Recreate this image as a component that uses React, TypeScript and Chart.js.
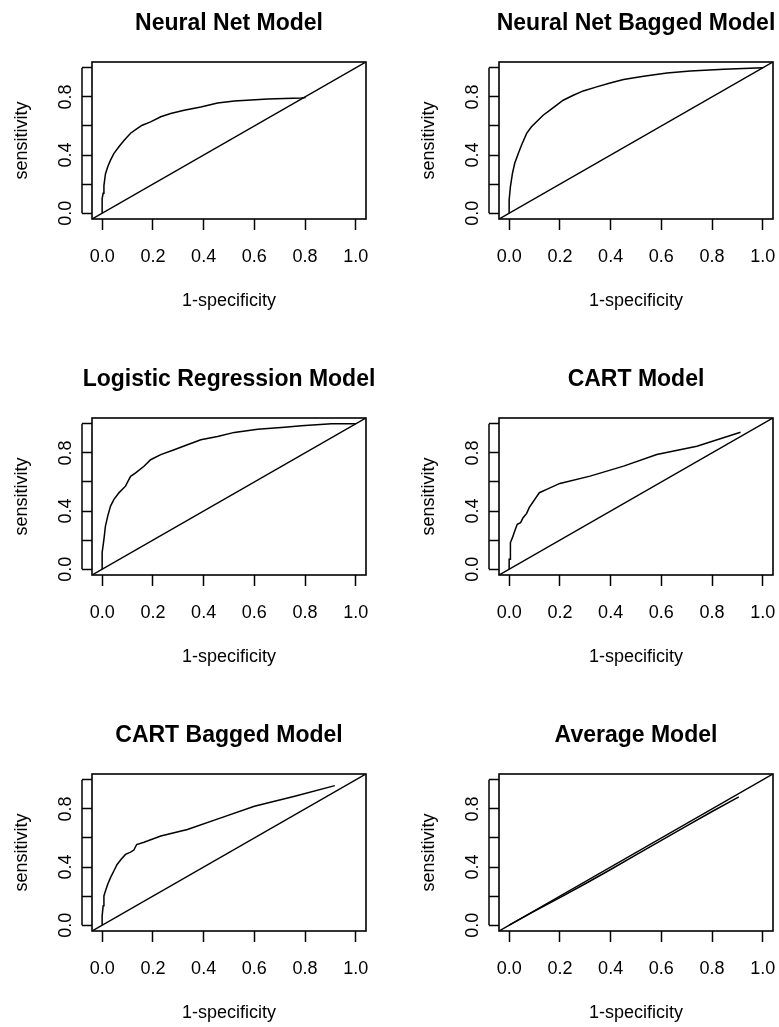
import React, { useEffect, useRef } from 'react';
import { Chart, registerables } from 'chart.js';

Chart.register(...registerables);

// ---------- axis definitions ----------
const axisMin = -0.04;
const axisMax = 1.04;
const xTickValues = [0, 0.2, 0.4, 0.6, 0.8, 1.0];
const xTickLabels = ['0.0', '0.2', '0.4', '0.6', '0.8', '1.0'];
const yTickValues = [0, 0.2, 0.4, 0.6, 0.8, 1.0];
const yTickLabels = ['0.0', '', '0.4', '', '0.8', ''];
const xAxisTitle = '1-specificity';
const yAxisTitle = 'sensitivity';

// ---------- data ----------
const panelTitles = [
  'Neural Net Model',
  'Neural Net Bagged Model',
  'Logistic Regression Model',
  'CART Model',
  'CART Bagged Model',
  'Average Model',
];

const nnFpr = [0, 0, 0.004, 0.007, 0.013, 0.022, 0.033, 0.046, 0.066, 0.086, 0.112, 0.139, 0.158, 0.191, 0.231, 0.270, 0.323, 0.389, 0.455, 0.521, 0.653, 0.785, 0.802];
const nnTpr = [0, 0.10, 0.137, 0.19, 0.27, 0.32, 0.365, 0.41, 0.457, 0.50, 0.55, 0.583, 0.605, 0.628, 0.663, 0.686, 0.708, 0.731, 0.758, 0.772, 0.786, 0.793, 0.795];

const nnBagFpr = [0, 0, 0.005, 0.013, 0.022, 0.036, 0.049, 0.069, 0.088, 0.108, 0.134, 0.161, 0.187, 0.213, 0.253, 0.292, 0.345, 0.398, 0.451, 0.530, 0.622, 0.714, 0.846, 1.0];
const nnBagTpr = [0, 0.091, 0.183, 0.274, 0.343, 0.411, 0.469, 0.549, 0.594, 0.629, 0.674, 0.709, 0.743, 0.777, 0.811, 0.841, 0.869, 0.896, 0.919, 0.942, 0.965, 0.978, 0.990, 1.0];

const logitFpr = [0, 0, 0.007, 0.013, 0.022, 0.033, 0.046, 0.066, 0.092, 0.112, 0.132, 0.165, 0.191, 0.231, 0.284, 0.336, 0.389, 0.455, 0.521, 0.613, 0.719, 0.785, 0.904, 1.0];
const logitTpr = [0, 0.114, 0.205, 0.297, 0.365, 0.434, 0.479, 0.525, 0.571, 0.639, 0.662, 0.708, 0.753, 0.788, 0.822, 0.856, 0.890, 0.913, 0.941, 0.963, 0.977, 0.986, 1.0, 1.0];

const cartFpr = [0, 0, 0.005, 0.005, 0.013, 0.022, 0.032, 0.045, 0.055, 0.069, 0.079, 0.092, 0.105, 0.119, 0.148, 0.200, 0.319, 0.451, 0.582, 0.740, 0.912];
const cartTpr = [0, 0.069, 0.069, 0.183, 0.217, 0.263, 0.309, 0.320, 0.354, 0.384, 0.423, 0.457, 0.491, 0.526, 0.549, 0.590, 0.640, 0.709, 0.789, 0.846, 0.942];

const cartBagFpr = [0, 0, 0.004, 0.007, 0.013, 0.022, 0.033, 0.046, 0.059, 0.075, 0.092, 0.112, 0.125, 0.136, 0.165, 0.231, 0.336, 0.468, 0.600, 0.759, 0.917];
const cartBagTpr = [0, 0.064, 0.133, 0.201, 0.235, 0.281, 0.327, 0.373, 0.418, 0.453, 0.487, 0.503, 0.517, 0.555, 0.571, 0.613, 0.658, 0.738, 0.818, 0.887, 0.960];

const avgFpr = [0, 0.1, 0.2, 0.3, 0.4, 0.5, 0.6, 0.7, 0.8, 0.9, 0.905];
const avgTpr = [0, 0.097, 0.19, 0.285, 0.383, 0.483, 0.583, 0.683, 0.782, 0.878, 0.882];

const seriesFpr = [nnFpr, nnBagFpr, logitFpr, cartFpr, cartBagFpr, avgFpr];
const seriesTpr = [nnTpr, nnBagTpr, logitTpr, cartTpr, cartBagTpr, avgTpr];

// ---------- layout / style ----------
const FONT = '"Liberation Sans", Arial, Helvetica, sans-serif';
const PANEL_H = 315;
const PLOT_TOP = 62;
const Y_AXIS_W = 92;
const X_AXIS_H = 96;
const X_TICK_LEN = 11;
const Y_TICK_LEN = 10;
const TITLE_BASELINE = 30;
const colLefts = [0, 407];
const colWidths = [390, 372];
const colRightPad = [24, 6];
const rowTops = [0, 356, 712];

Chart.defaults.font.family = FONT;
Chart.defaults.color = '#000';

function RocPanel({ idx }: { idx: number }) {
  const ref = useRef<HTMLCanvasElement | null>(null);
  const col = idx % 2;
  const row = Math.floor(idx / 2);
  const width = colWidths[col];

  useEffect(() => {
    const canvas = ref.current;
    if (!canvas) return;
    const title = panelTitles[idx];
    const fpr = seriesFpr[idx];
    const tpr = seriesTpr[idx];

    const framePlugin = {
      id: 'rFrame' + idx,
      afterDraw(chart: any) {
        const { ctx, chartArea: a, scales } = chart;
        ctx.save();
        ctx.strokeStyle = '#000';
        ctx.lineWidth = 1.6;
        ctx.strokeRect(a.left, a.top, a.right - a.left, a.bottom - a.top);
        const ys = scales.y;
        const xLine = a.left - Y_TICK_LEN;
        ctx.lineWidth = 1.5;
        ctx.beginPath();
        ctx.moveTo(xLine, ys.getPixelForValue(yTickValues[0]));
        ctx.lineTo(xLine, ys.getPixelForValue(yTickValues[yTickValues.length - 1]));
        ctx.stroke();
        ctx.fillStyle = '#000';
        ctx.font = `bold 23px ${FONT}`;
        ctx.textAlign = 'center';
        ctx.textBaseline = 'alphabetic';
        ctx.fillText(title, (a.left + a.right) / 2, TITLE_BASELINE);
        ctx.restore();
      },
    };

    const chart = new Chart(canvas, {
      type: 'line',
      data: {
        datasets: [
          {
            data: fpr.map((x, i) => ({ x, y: tpr[i] })),
            borderColor: '#000',
            borderWidth: 1.5,
            pointRadius: 0,
            fill: false,
            tension: 0,
          },
          {
            data: [
              { x: axisMin, y: axisMin },
              { x: axisMax, y: axisMax },
            ],
            borderColor: '#000',
            borderWidth: 1.5,
            pointRadius: 0,
            fill: false,
            tension: 0,
          },
        ],
      },
      options: {
        animation: false,
        responsive: false,
        devicePixelRatio: 1,
        events: [],
        layout: { padding: { top: PLOT_TOP, right: colRightPad[col], bottom: 0, left: 0 } },
        plugins: {
          legend: { display: false },
          tooltip: { enabled: false },
          title: { display: false },
        },
        scales: {
          x: {
            type: 'linear',
            min: axisMin,
            max: axisMax,
            afterBuildTicks: (s: any) => {
              s.ticks = xTickValues.map((v) => ({ value: v }));
            },
            afterFit: (s: any) => {
              s.height = X_AXIS_H;
              s.paddingLeft = 0;
              s.paddingRight = 0;
            },
            border: { display: false },
            grid: {
              drawOnChartArea: false,
              drawTicks: true,
              tickLength: X_TICK_LEN,
              tickWidth: 1.5,
              tickColor: '#000',
            },
            ticks: {
              autoSkip: false,
              maxRotation: 0,
              minRotation: 0,
              padding: 16.2,
              color: '#000',
              font: { size: 18, family: FONT },
              callback: (_v: any, i: number) => xTickLabels[i],
            },
            title: {
              display: true,
              text: xAxisTitle,
              color: '#000',
              font: { size: 18, family: FONT },
              padding: { top: 0, bottom: 2.7 },
            },
          },
          y: {
            type: 'linear',
            min: axisMin,
            max: axisMax,
            afterBuildTicks: (s: any) => {
              s.ticks = yTickValues.map((v) => ({ value: v }));
            },
            afterFit: (s: any) => {
              s.width = Y_AXIS_W;
              s.paddingTop = 0;
              s.paddingBottom = 0;
            },
            border: { display: false },
            grid: {
              drawOnChartArea: false,
              drawTicks: true,
              tickLength: Y_TICK_LEN,
              tickWidth: 1.5,
              tickColor: '#000',
            },
            ticks: {
              autoSkip: false,
              minRotation: 90,
              maxRotation: 90,
              crossAlign: 'center',
              padding: 3.5,
              color: '#000',
              font: { size: 18, family: FONT },
              callback: (_v: any, i: number) => yTickLabels[i],
            },
            title: {
              display: true,
              text: yAxisTitle,
              color: '#000',
              font: { size: 18, family: FONT },
              padding: { top: 11.2, bottom: 0 },
            },
          },
        },
      } as any,
      plugins: [framePlugin],
    });
    return () => chart.destroy();
  }, [idx, col]);

  return (
    <canvas
      ref={ref}
      width={width}
      height={PANEL_H}
      style={{
        position: 'absolute',
        left: colLefts[col],
        top: rowTops[row],
        width: width,
        height: PANEL_H,
      }}
    />
  );
}

export default function App() {
  return (
    <div
      style={{
        position: 'absolute',
        left: 0,
        top: 0,
        width: 779,
        height: 1027,
        background: '#fff',
        overflow: 'hidden',
      }}
    >
      {panelTitles.map((_t, i) => (
        <RocPanel key={i} idx={i} />
      ))}
    </div>
  );
}
